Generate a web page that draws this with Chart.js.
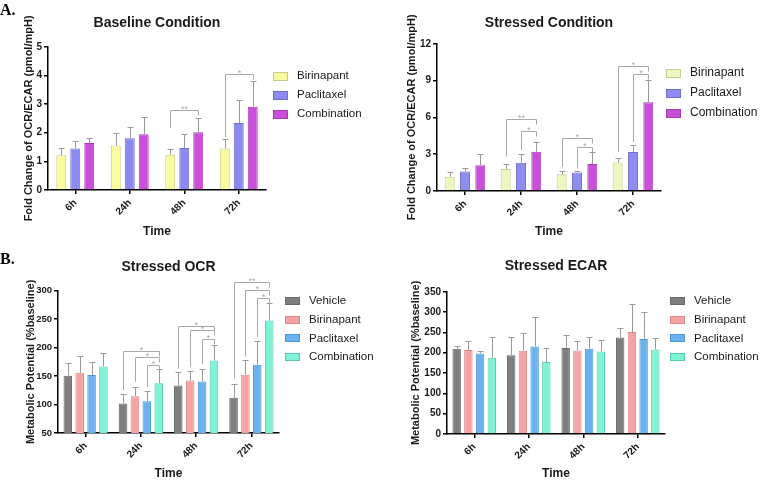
<!DOCTYPE html>
<html>
<head>
<meta charset="utf-8">
<script src="https://cdn.jsdelivr.net/npm/chart.js@4.4.0/dist/chart.umd.min.js"></script>
<style>
  html, body { margin: 0; padding: 0; background: #fff; }
  #wrap { position: relative; width: 760px; height: 480px; overflow: hidden; }
  #wrap canvas { position: absolute; }
  .tag { position: absolute; font: bold 16px "Liberation Serif", "Times New Roman", serif; color: #000; }
</style>
</head>
<body>
<div id="wrap">
  <canvas id="baseChart" width="380" height="240" style="left:0;top:0"></canvas>
  <canvas id="stressChart" width="380" height="240" style="left:380px;top:0"></canvas>
  <canvas id="ocrChart" width="380" height="240" style="left:0;top:240px"></canvas>
  <canvas id="ecarChart" width="380" height="240" style="left:380px;top:240px"></canvas>
  <div class="tag" style="left:0;top:1px">A.</div>
  <div class="tag" style="left:0;top:250px">B.</div>
</div>
<script>
/* ---- data ---- */
const times = ['6h', '24h', '48h', '72h'];

// A. fold change OCR/ECAR, baseline
const baseBirinapant     = [1.21, 1.55, 1.23, 1.45];
const baseBirinapantErr  = [0.25, 0.45, 0.20, 0.32];
const basePaclitaxel     = [1.45, 1.81, 1.47, 2.34];
const basePaclitaxelErr  = [0.27, 0.38, 0.48, 0.80];
const baseCombination    = [1.64, 1.95, 2.02, 2.91];
const baseCombinationErr = [0.18, 0.59, 0.50, 0.91];

// A. fold change OCR/ECAR, stressed
const stressBirinapant     = [1.17, 1.80, 1.37, 2.32];
const stressBirinapantErr  = [0.39, 0.41, 0.24, 0.41];
const stressPaclitaxel     = [1.58, 2.30, 1.50, 3.17];
const stressPaclitaxelErr  = [0.33, 0.68, 0.11, 0.55];
const stressCombination    = [2.10, 3.20, 2.21, 7.24];
const stressCombinationErr = [0.93, 0.76, 0.99, 1.78];

// B. stressed OCR, % baseline
const ocrVehicle        = [150.6, 101.8, 133.5, 111.8];
const ocrVehicleErr     = [22.9, 17.6, 23.0, 25.2];
const ocrBirinapant     = [155.9, 114.7, 142.4, 152.4];
const ocrBirinapantErr  = [28.8, 15.9, 16.4, 25.2];
const ocrPaclitaxel     = [151.8, 105.9, 140.6, 170.0];
const ocrPaclitaxelErr  = [23.5, 18.8, 22.4, 41.8];
const ocrCombination    = [167.0, 137.6, 177.6, 247.6];
const ocrCombinationErr = [23.0, 24.2, 26.4, 30.4];

// B. stressed ECAR, % baseline
const ecarVehicle        = [209.8, 194.0, 211.5, 237.7];
const ecarVehicleErr     = [6.6, 43.7, 32.5, 23.0];
const ecarBirinapant     = [206.6, 205.0, 205.7, 250.8];
const ecarBirinapantErr  = [22.1, 43.4, 22.3, 68.9];
const ecarPaclitaxel     = [198.4, 215.6, 209.8, 233.6];
const ecarPaclitaxelErr  = [5.6, 71.4, 27.9, 66.4];
const ecarCombination    = [187.7, 177.0, 203.0, 208.0];
const ecarCombinationErr = [51.6, 33.7, 28.0, 28.0];

// significance brackets: [time index, from series, to series, bracket level, left leg bottom, mark]
const baseSig = [[2, 0, 2, 2.8, 2.16, '**'], [3, 0, 2, 4.05, 1.85, '*']];
const stressSig = [
  [1, 0, 2, 5.85, 2.79, '**'], [1, 1, 2, 4.9, 3.33, '*'],
  [2, 0, 2, 4.34, 1.97, '*'],  [2, 1, 2, 3.6, 1.83, '*'],
  [3, 0, 2, 10.16, 3.2, '*'],  [3, 1, 2, 9.56, 4.0, '*']
];
const ocrSig = [
  [1, 0, 3, 194.7, 125.3, '*'], [1, 1, 3, 183, 140, '*'],   [1, 2, 3, 169.4, 131, '*'],
  [2, 0, 3, 238, 163.5, '*'],   [2, 1, 3, 231, 166.5, '*'], [2, 2, 3, 216, 172, '*'],
  [3, 0, 3, 314.7, 146, '**'],  [3, 1, 3, 300.6, 184, '*'], [3, 2, 3, 288, 219, '*']
];

/* ---- look ---- */
const FONT = '"Liberation Sans", Arial, sans-serif';
const INK = '#1a1a1a';

/* error bars (upper only, GraphPad style) */
const errorBars = {
  id: 'errorBars',
  afterDatasetsDraw(chart, args, opts) {
    const ctx = chart.ctx, y = chart.scales.y;
    ctx.save();
    ctx.strokeStyle = opts.color;
    ctx.lineWidth = 1;
    chart.data.datasets.forEach((ds, i) => {
      chart.getDatasetMeta(i).data.forEach((bar, j) => {
        const top = Math.round(y.getPixelForValue(ds.data[j] + ds.err[j])) + 0.5;
        const x = Math.round(bar.x) + 0.5;
        ctx.beginPath();
        ctx.moveTo(x, bar.y);
        ctx.lineTo(x, top);
        ctx.moveTo(x - opts.cap, top);
        ctx.lineTo(x + opts.cap, top);
        ctx.stroke();
      });
    });
    ctx.restore();
  }
};

/* significance brackets */
const sigBrackets = {
  id: 'sigBrackets',
  afterDatasetsDraw(chart, args, opts) {
    if (!opts.items) return;
    const ctx = chart.ctx, y = chart.scales.y;
    ctx.save();
    ctx.strokeStyle = opts.color;
    ctx.fillStyle = opts.color;
    ctx.lineWidth = 1;
    ctx.font = opts.font;
    ctx.textAlign = 'center';
    ctx.textBaseline = 'alphabetic';
    opts.items.forEach(([cat, a, b, level, low, mark]) => {
      const x1 = Math.round(chart.getDatasetMeta(a).data[cat].x) + 0.5;
      const x2 = Math.round(chart.getDatasetMeta(b).data[cat].x) + 0.5;
      const yy = Math.round(y.getPixelForValue(level)) + 0.5;
      ctx.beginPath();
      ctx.moveTo(x1, y.getPixelForValue(low));
      ctx.lineTo(x1, yy);
      ctx.lineTo(x2, yy);
      ctx.lineTo(x2, yy + opts.drop);
      ctx.stroke();
      ctx.fillText(mark, (x1 + x2) / 2, yy + 1.5);
    });
    ctx.restore();
  }
};

/* legend to the right, boxes + labels */
const sideLegend = {
  id: 'sideLegend',
  afterDraw(chart, args, opts) {
    const ctx = chart.ctx;
    ctx.save();
    ctx.font = opts.font;
    ctx.textAlign = 'left';
    ctx.textBaseline = 'middle';
    chart.data.datasets.forEach((ds, i) => {
      const cy = opts.y + i * opts.step;
      const top = Math.round(cy - opts.boxH / 2);
      ctx.fillStyle = ds.backgroundColor;
      ctx.fillRect(opts.x, top, opts.boxW, opts.boxH);
      ctx.strokeStyle = ds.borderColor;
      ctx.lineWidth = 1;
      ctx.strokeRect(opts.x + 0.5, top + 0.5, opts.boxW - 1, opts.boxH - 1);
      ctx.fillStyle = opts.color;
      ctx.fillText(ds.label, opts.x + opts.textDx, cy);
    });
    ctx.restore();
  }
};

function buildChart(canvasId, cfg) {
  const ctx = document.getElementById(canvasId);
  if (!ctx) return null;
  return new Chart(ctx, {
    type: 'bar',
    data: {
      labels: times,
      datasets: cfg.series.map(s => ({
        label: s.label, data: s.data, err: s.err,
        backgroundColor: s.fill, borderColor: s.line, borderWidth: 1,
        categoryPercentage: cfg.catPct, barPercentage: cfg.barPct
      }))
    },
    options: {
      responsive: false, animation: false, events: [],
      layout: { padding: { left: 0, right: cfg.padRight, top: 0, bottom: 0 } },
      plugins: {
        legend: { display: false },
        tooltip: { enabled: false },
        title: {
          display: true, text: cfg.title, fullSize: false, color: INK,
          font: { family: FONT, size: 14, weight: 'bold' },
          padding: { top: cfg.titleTop, bottom: cfg.titleBottom }
        },
        errorBars: { color: '#9a9a9a', cap: 3 },
        sigBrackets: { items: cfg.sig, color: '#a8a8a8', font: '9px ' + FONT, drop: 5 },
        sideLegend: {
          x: cfg.legX, y: cfg.legY, step: cfg.legStep, boxW: 15, boxH: cfg.boxH, textDx: 24,
          font: cfg.legFont + 'px ' + FONT, color: INK
        }
      },
      scales: {
        x: {
          grid: { display: true, drawOnChartArea: false, offset: false, tickLength: 4, color: '#000', lineWidth: 1.5 },
          border: { color: '#000', width: 1.5 },
          ticks: { color: INK, font: { family: FONT, size: 10, weight: 'bold' }, maxRotation: 45, minRotation: 45, padding: 3 },
          title: {
            display: true, text: 'Time', color: INK,
            font: { family: FONT, size: 12, weight: 'bold', lineHeight: 1 },
            padding: { top: 0, bottom: cfg.xTitlePad }
          },
          afterFit: s => { s.height = cfg.xHeight; }
        },
        y: {
          min: cfg.yMin, max: cfg.yMax,
          grid: { display: true, drawOnChartArea: false, tickLength: 4, color: '#000', lineWidth: 1.5 },
          border: { color: '#000', width: 1.5 },
          ticks: { stepSize: cfg.yStep, color: INK, font: { family: FONT, size: cfg.yTickSize, weight: 'bold' }, padding: 2 },
          title: {
            display: true, text: cfg.yTitle, color: INK,
            font: { family: FONT, size: 11, weight: 'bold' },
            padding: { top: cfg.yTitlePad, bottom: 0 }
          },
          afterFit: s => { s.width = cfg.yWidth; }
        }
      }
    },
    plugins: [errorBars, sigBrackets, sideLegend]
  });
}

const foldTitle = 'Fold Change of OCR/ECAR (pmol/mpH)';
const potentialTitle = 'Metabolic Potential (%baseline)';

buildChart('baseChart', {
  title: 'Baseline Condition', yTitle: foldTitle, yMin: 0, yMax: 5, yStep: 1, yTickSize: 10,
  series: [
    { label: 'Birinapant',  data: baseBirinapant,  err: baseBirinapantErr,  fill: '#fafa9e', line: '#c9c98a' },
    { label: 'Paclitaxel',  data: basePaclitaxel,  err: basePaclitaxelErr,  fill: '#8a8af2', line: '#7070c8' },
    { label: 'Combination', data: baseCombination, err: baseCombinationErr, fill: '#cc4fdc', line: '#a93cb8' }
  ],
  sig: baseSig, catPct: 0.77, barPct: 0.71,
  yWidth: 48, padRight: 114, titleTop: 15, titleBottom: 15, xHeight: 50, xTitlePad: 2, yTitlePad: 22,
  legX: 273, legY: 76, legStep: 19, boxH: 9, legFont: 11.5
});

buildChart('stressChart', {
  title: 'Stressed Condition', yTitle: foldTitle, yMin: 0, yMax: 12, yStep: 3, yTickSize: 10,
  series: [
    { label: 'Birinapant',  data: stressBirinapant,  err: stressBirinapantErr,  fill: '#eef7bf', line: '#c4cc98' },
    { label: 'Paclitaxel',  data: stressPaclitaxel,  err: stressPaclitaxelErr,  fill: '#8c8cf2', line: '#7070c8' },
    { label: 'Combination', data: stressCombination, err: stressCombinationErr, fill: '#c94fd9', line: '#a63cb5' }
  ],
  sig: stressSig, catPct: 0.82, barPct: 0.65,
  yWidth: 57, padRight: 99, titleTop: 15, titleBottom: 12, xHeight: 49, xTitlePad: 2, yTitlePad: 25,
  legX: 286, legY: 73, legStep: 20, boxH: 9, legFont: 12
});

buildChart('ocrChart', {
  title: 'Stressed OCR', yTitle: potentialTitle, yMin: 50, yMax: 300, yStep: 50, yTickSize: 9.5,
  series: [
    { label: 'Vehicle',     data: ocrVehicle,     err: ocrVehicleErr,     fill: '#7f7f7f', line: '#686868' },
    { label: 'Birinapant',  data: ocrBirinapant,  err: ocrBirinapantErr,  fill: '#f7a3a3', line: '#d88a8a' },
    { label: 'Paclitaxel',  data: ocrPaclitaxel,  err: ocrPaclitaxelErr,  fill: '#6bb2f0', line: '#4f94d0' },
    { label: 'Combination', data: ocrCombination, err: ocrCombinationErr, fill: '#80f2d6', line: '#55c8aa' }
  ],
  sig: ocrSig, catPct: 0.86, barPct: 0.72,
  yWidth: 58, padRight: 101, titleTop: 19, titleBottom: 15, xHeight: 47, xTitlePad: 0, yTitlePad: 24,
  legX: 285, legY: 61, legStep: 18.7, boxH: 8, legFont: 11.5
});

buildChart('ecarChart', {
  title: 'Stressed ECAR', yTitle: potentialTitle, yMin: 0, yMax: 350, yStep: 50, yTickSize: 10,
  series: [
    { label: 'Vehicle',     data: ecarVehicle,     err: ecarVehicleErr,     fill: '#7f7f7f', line: '#686868' },
    { label: 'Birinapant',  data: ecarBirinapant,  err: ecarBirinapantErr,  fill: '#f7a3a3', line: '#d88a8a' },
    { label: 'Paclitaxel',  data: ecarPaclitaxel,  err: ecarPaclitaxelErr,  fill: '#6bb2f0', line: '#4f94d0' },
    { label: 'Combination', data: ecarCombination, err: ecarCombinationErr, fill: '#80f2d6', line: '#55c8aa' }
  ],
  sig: null, catPct: 0.86, barPct: 0.72,
  yWidth: 67, padRight: 95, titleTop: 18, titleBottom: 17, xHeight: 46, xTitlePad: 0, yTitlePad: 29,
  legX: 290, legY: 61, legStep: 18.7, boxH: 8, legFont: 11.5
});
</script>
</body>
</html>
